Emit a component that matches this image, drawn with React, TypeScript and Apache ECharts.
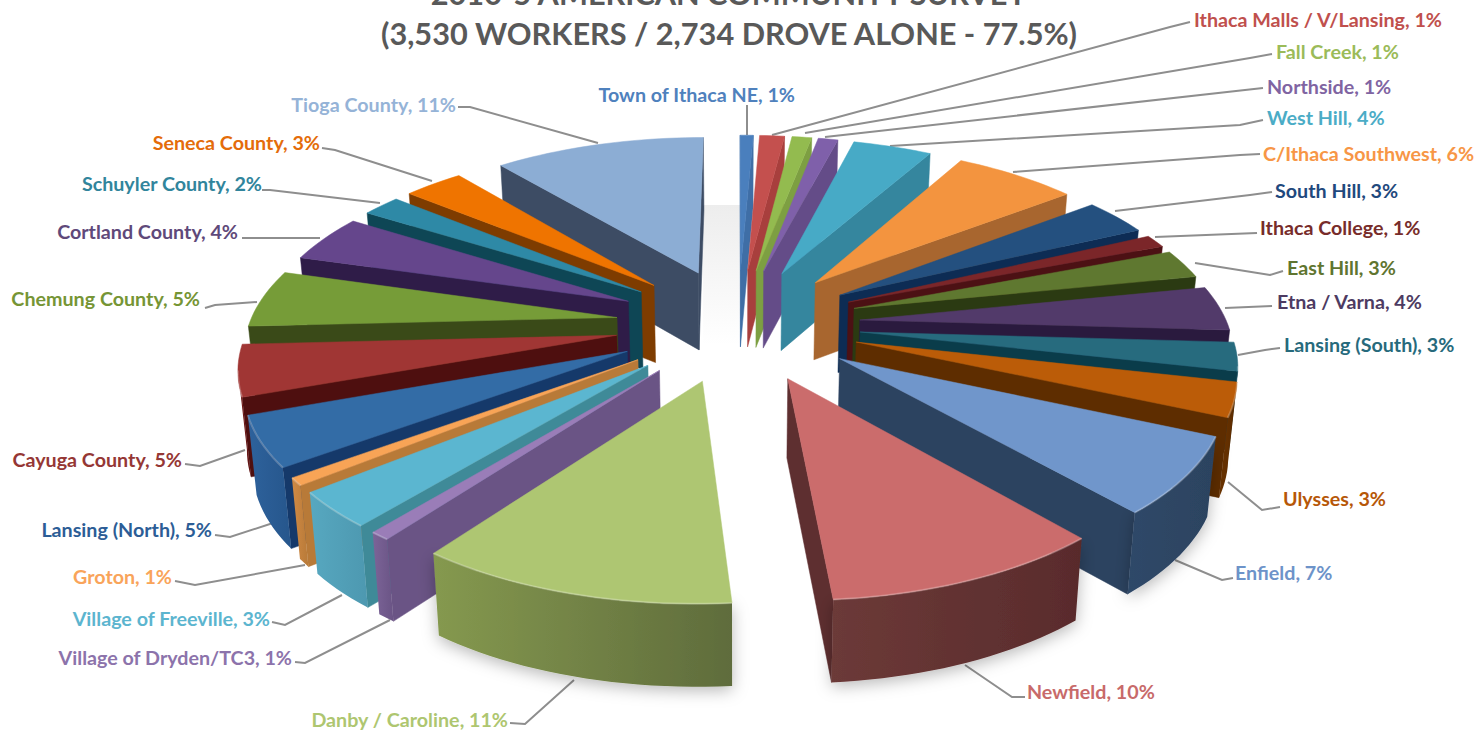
import React, { useEffect, useRef } from "react";
import * as echarts from "echarts";

const categories = ["Town of Ithaca NE","Ithaca Malls / V/Lansing","Fall Creek","Northside","West Hill","C/Ithaca Southwest","South Hill","Ithaca College","East Hill","Etna / Varna","Lansing (South)","Ulysses","Enfield","Newfield","Danby / Caroline","Village of Dryden/TC3","Village of Freeville","Groton","Lansing (North)","Cayuga County","Chemung County","Cortland County","Schuyler County","Seneca County","Tioga County"];
const labelPercents = [1,1,1,1,4,6,3,1,3,4,3,3,7,10,11,1,3,1,5,5,5,4,2,3,11];
const shares = [0.68,1.3,1.03,1.03,4.12,6.39,3.4,1.2,2.67,4.1,2.6,3.1,6.95,10.15,11.44,0.75,3.25,0.7,4.6,4.7,5.3,4.4,2.0,3.1,11.0];

const topColors = ["#4a7fbd","#c4504e","#93bb4f","#7f60aa","#47aac6","#f3943f","#24507f","#7b2629","#5f7830","#523a6a","#276b7e","#bb5c08","#7096cb","#cb6c6c","#aec672","#9a7db8","#5bb6d0","#f8a456","#336ca6","#a03634","#769c38","#65468c","#2e89a6","#ef7400","#8cadd4"];
const faceColors = ["#3f6ea6","#a83f3d","#7d9f42","#644c88","#35869e","#a8662f","#0d2c54","#4c1114","#2b3a12","#2a1a3e","#0a3c4a","#5e2d00","#2c4360","#5e2f30","#6e8046","#6a5485","#3f8a98","#b87a38","#15396a","#4e0f0f","#3a4a18","#2f1c48","#0e4655","#7e3c00","#3d4c64"];
const rimLeft = ["#3f6ea6","#a83f3d","#7d9f42","#644c88","#35869e","#a8662f","#1d4270","#5c1a1c","#3a4d18","#3a2850","#1d5666","#6c3400","#2f4868","#6c3a38","#85994f","#7c6498","#57a8c0","#d08a45","#2e629c","#7a1e1c","#4b5f20","#3e2a5c","#1a5e72","#8f4600","#4a5a72"];
const rimRight = ["#3f6ea6","#a83f3d","#7d9f42","#644c88","#35869e","#a8662f","#1d4270","#5c1a1c","#3a4d18","#3a2850","#1d5666","#5a2b00","#2c4360","#592b2c","#5f6c3c","#6a5485","#4d98b0","#b87a38","#26568c","#5e1414","#4b5f20","#3e2a5c","#1a5e72","#8f4600","#4a5a72"];
const labelColors = ["#4f81bd","#c0504d","#9bbb59","#8064a2","#4bacc6","#f79646","#1f497d","#772c2a","#5f7530","#4d3b62","#276a7c","#b65708","#6d93c9","#c86a6a","#aec670","#8c73ab","#5cb5cf","#f9a45a","#2c5d96","#953735","#769535","#5f497a","#31859c","#e46c0a","#95b3d7"];

const titleLines = ["2010-5 AMERICAN COMMUNITY SURVEY","(3,530 WORKERS / 2,734 DROVE ALONE - 77.5%)"];

// label layout: [text x, text y, align]
const labelPlaces: [number, number, "left" | "right"][] = [
  [795,94,"right"],[1194,19,"left"],[1276,51,"left"],[1267,86,"left"],[1267,117,"left"],[1263,153,"left"],[1275,190,"left"],[1260,227,"left"],[1287,267,"left"],[1277,301,"left"],[1284,344,"left"],[1283,498,"left"],[1235,572,"left"],[1027,691,"left"],[508,719,"right"],[292,657,"right"],[270,618,"right"],[172,576,"right"],[212,529,"right"],[182,459,"right"],[200,298,"right"],[238,231,"right"],[262,183,"right"],[320,142,"right"],[456,104,"right"],
];
const leaderLines: number[][][] = [
  [[747,105],[747,135]],
  [[772,135],[1170,27],[1190,22]],
  [[805,133],[1250,58],[1272,54]],
  [[825,137],[1245,90],[1263,88]],
  [[890,146],[1240,125],[1263,120]],
  [[1013,172],[1240,155],[1260,154]],
  [[1115,211],[1250,195],[1272,192]],
  [[1155,237],[1257,233]],
  [[1195,263],[1270,275],[1283,271]],
  [[1225,308],[1272,306]],
  [[1238,355],[1265,350],[1280,348]],
  [[1228,482],[1262,510],[1280,507]],
  [[1175,560],[1222,580],[1233,578]],
  [[965,665],[1012,697],[1025,697]],
  [[574,680],[525,724],[510,723]],
  [[390,620],[305,663],[295,662]],
  [[342,595],[285,625],[272,622]],
  [[305,565],[195,585],[175,581]],
  [[273,523],[230,537],[215,535]],
  [[245,450],[200,466],[185,464]],
  [[257,302],[215,305],[205,308]],
  [[320,238],[242,238]],
  [[380,203],[270,190],[262,190]],
  [[432,181],[335,150],[322,148]],
  [[598,143],[470,107],[458,107]],
];

// projection of the pie plane
const CX = 738, CY = 324, SX = 490, SY = 226.6, K = 0.2;
const EXPLODE = 0.25, RADIUS = 0.75;
const project = (u: number, v: number): [number, number] => {
  const w = 1 - K * v;
  return [CX + (SX * u) / w, CY + (SY * v) / w];
};
const extrude = (p: [number, number], v: number): [number, number] => [
  p[0] - (p[0] - CX) * 0.018,
  p[1] + 78 + 5 * v,
];

const total = shares.reduce((a, b) => a + b, 0);
const startAngles: number[] = [];
shares.reduce((acc, s, i) => {
  startAngles[i] = (acc / total) * Math.PI * 2;
  return acc + s;
}, 0);

const drawOrder = shares
  .map((_, i) => i)
  .sort((a, b) => {
    const m = (i: number) => startAngles[i] + (shares[i] / total) * Math.PI;
    return -Math.cos(m(a)) - -Math.cos(m(b));
  });

function renderSlice(_params: any, api: any) {
  const value = api.value(0) as number;
  const i = api.value(1) as number;
  const a0 = startAngles[i];
  const a1 = a0 + (value / total) * Math.PI * 2;
  const mid = (a0 + a1) / 2;
  const au = EXPLODE * Math.sin(mid), av = -EXPLODE * Math.cos(mid);
  const steps = Math.max(4, Math.ceil((a1 - a0) / 0.03));
  const uv: [number, number][] = [[au, av]];
  for (let s = 0; s <= steps; s++) {
    const t = a0 + ((a1 - a0) * s) / steps;
    uv.push([au + RADIUS * Math.sin(t), av - RADIUS * Math.cos(t)]);
  }
  const pts = uv.map((q) => project(q[0], q[1]));
  const n = pts.length;
  const children: any[] = [];
  // radial side faces
  const face = (ia: number, ib: number) => {
    const a = pts[ia], b = pts[ib];
    if (b[0] - a[0] >= 0) return;
    children.push({
      type: "polygon",
      shape: { points: [a, b, extrude(b, uv[ib][1]), extrude(a, uv[ia][1])] },
      style: { fill: faceColors[i], stroke: faceColors[i], lineWidth: 0.5 },
    });
  };
  face(0, 1);
  face(n - 1, 0);
  // outer rim: contiguous run of arc segments that face the viewer
  const runTop: [number, number][] = [];
  const runBottom: [number, number][] = [];
  for (let s = 1; s < n - 1; s++) {
    if (pts[s + 1][0] - pts[s][0] < 0) {
      if (!runTop.length) {
        runTop.push(pts[s]);
        runBottom.push(extrude(pts[s], uv[s][1]));
      }
      runTop.push(pts[s + 1]);
      runBottom.push(extrude(pts[s + 1], uv[s + 1][1]));
    }
  }
  if (runTop.length) {
    const big = i >= 12 && i <= 14;
    children.push({
      type: "polygon",
      shape: { points: [...runTop, ...runBottom.reverse()] },
      style: {
        fill: {
          type: "linear", x: 0, y: 0, x2: 1, y2: 0,
          colorStops: [
            { offset: 0, color: rimLeft[i] },
            { offset: 1, color: rimRight[i] },
          ],
        },
        ...(big ? { shadowBlur: 16, shadowColor: "rgba(0,0,0,0.28)", shadowOffsetY: 4 } : {}),
      },
    });
  }
  children.push({
    type: "polygon",
    shape: { points: pts },
    style: { fill: topColors[i], stroke: topColors[i], lineWidth: 0.5 },
  });
  if (runTop.length) {
    children.push({
      type: "polyline",
      shape: { points: runTop },
      style: { fill: "none", stroke: "rgba(255,255,255,0.22)", lineWidth: 2 },
    });
  }
  return { type: "group", children };
}

const FONT = "Lato, 'Open Sans', sans-serif";

export default function App() {
  const ref = useRef<HTMLDivElement>(null);
  useEffect(() => {
    if (!ref.current) return;
    const chart = echarts.init(ref.current, undefined, { renderer: "svg" });
    const graphics: any[] = [
      {
        type: "rect", silent: true, z: 0,
        shape: { x: 703, y: 205, width: 38, height: 140 },
        style: {
          fill: { type: "linear", x: 0, y: 0, x2: 0, y2: 1, colorStops: [
            { offset: 0, color: "#ededed" }, { offset: 1, color: "#ffffff" } ] },
        },
      },
      ...titleLines.map((t, i) => ({
        type: "text", z: 5,
        style: {
          text: t, x: 729, y: i === 0 ? -7 : 33,
          align: "center", verticalAlign: "middle",
          font: `700 30.7px ${FONT}`, fill: "#595959",
        },
      })),
      ...leaderLines.map((pts) => ({
        type: "polyline", z: 1,
        shape: { points: pts },
        style: { fill: "none", stroke: "#8e8e8e", lineWidth: 2 },
      })),
      ...categories.map((c, i) => ({
        type: "text", z: 5,
        style: {
          text: `${c}, ${labelPercents[i]}%`,
          x: labelPlaces[i][0], y: labelPlaces[i][1],
          align: labelPlaces[i][2], verticalAlign: "middle",
          font: `700 19.7px ${FONT}`, fill: labelColors[i],
        },
      })),
    ];
    chart.setOption({
      animation: false,
      backgroundColor: "#ffffff",
      graphic: graphics,
      series: [
        {
          type: "custom",
          coordinateSystem: "none",
          silent: true,
          z: 3,
          renderItem: renderSlice,
          data: drawOrder.map((i) => [shares[i], i]),
          encode: { value: 0 },
        },
      ],
    });
    return () => chart.dispose();
  }, []);
  return <div ref={ref} style={{ position: "absolute", left: 0, top: 0, width: 1475, height: 733 }} />;
}
